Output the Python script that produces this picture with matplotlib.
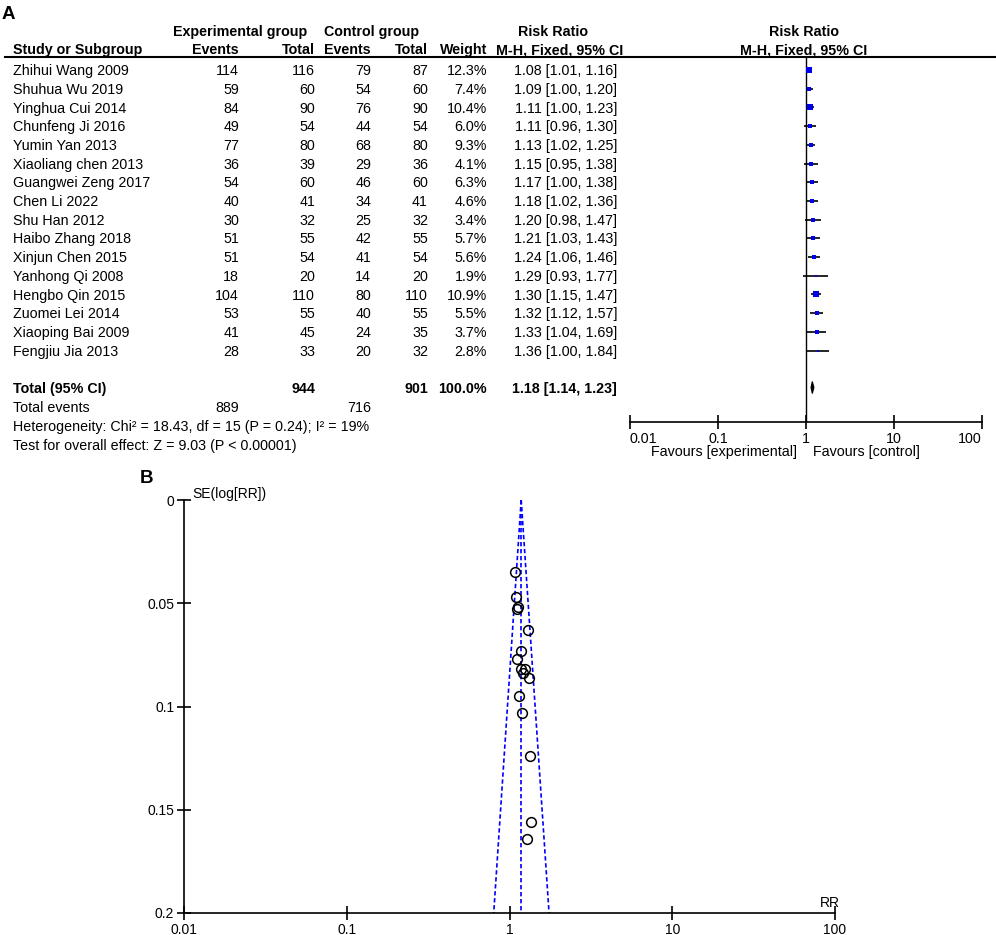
import matplotlib
matplotlib.use("Agg")
import matplotlib.pyplot as plt
import numpy as np

plt.rcParams['font.family'] = ['Liberation Sans', 'DejaVu Sans']

# ---- data ----
studies = ["Zhihui Wang 2009", "Shuhua Wu 2019", "Yinghua Cui 2014", "Chunfeng Ji 2016",
           "Yumin Yan 2013", "Xiaoliang chen 2013", "Guangwei Zeng 2017", "Chen Li 2022",
           "Shu Han 2012", "Haibo Zhang 2018", "Xinjun Chen 2015", "Yanhong Qi 2008",
           "Hengbo Qin 2015", "Zuomei Lei 2014", "Xiaoping Bai 2009", "Fengjiu Jia 2013"]
ev_exp = [114, 59, 84, 49, 77, 36, 54, 40, 30, 51, 51, 18, 104, 53, 41, 28]
tot_exp = [116, 60, 90, 54, 80, 39, 60, 41, 32, 55, 54, 20, 110, 55, 45, 33]
ev_ctl = [79, 54, 76, 44, 68, 29, 46, 34, 25, 42, 41, 14, 80, 40, 24, 20]
tot_ctl = [87, 60, 90, 54, 80, 36, 60, 41, 32, 55, 54, 20, 110, 55, 35, 32]
weight = [12.3, 7.4, 10.4, 6.0, 9.3, 4.1, 6.3, 4.6, 3.4, 5.7, 5.6, 1.9, 10.9, 5.5, 3.7, 2.8]
rr = [1.08, 1.09, 1.11, 1.11, 1.13, 1.15, 1.17, 1.18, 1.20, 1.21, 1.24, 1.29, 1.30, 1.32, 1.33, 1.36]
lo = [1.01, 1.00, 1.00, 0.96, 1.02, 0.95, 1.00, 1.02, 0.98, 1.03, 1.06, 0.93, 1.15, 1.12, 1.04, 1.00]
hi = [1.16, 1.20, 1.23, 1.30, 1.25, 1.38, 1.38, 1.36, 1.47, 1.43, 1.46, 1.77, 1.47, 1.57, 1.69, 1.84]
se = [0.035, 0.047, 0.053, 0.077, 0.052, 0.095, 0.082, 0.073, 0.103, 0.084, 0.082, 0.164,
      0.063, 0.086, 0.124, 0.156]

total_exp, total_ctl = 944, 901
total_ev_exp, total_ev_ctl = 889, 716
total_weight = 100.0
pooled, pooled_lo, pooled_hi = 1.18, 1.14, 1.23
funnel_lo, funnel_hi = 0.80, 1.75

xticks = [0.01, 0.1, 1, 10, 100]
xtick_labels = ["0.01", "0.1", "1", "10", "100"]
yticks = [0, 0.05, 0.1, 0.15, 0.2]
ytick_labels = ["0", "0.05", "0.1", "0.15", "0.2"]

# ---- figure in pixel units ----
W, H = 996, 935
fig = plt.figure(figsize=(W / 100, H / 100), dpi=100)
FS = 10.3


def px_axes(x0, y0, x1, y1):
    return fig.add_axes([x0 / W, 1 - y1 / H, (x1 - x0) / W, (y1 - y0) / H])


ax_t = fig.add_axes([0, 0, 1, 1])
ax_t.set_xlim(0, W)
ax_t.set_ylim(H, 0)
ax_t.set_axis_off()


def txt(x, y, s, ha='left', bold=False, size=FS):
    cap = 0.716 * size * 100 / 72
    ax_t.text(x, y + cap / 2, s, ha=ha, va='baseline', fontsize=size,
              fontweight='bold' if bold else 'normal')


# panel labels
txt(2, 12, "A", bold=True, size=13.5)
txt(140, 476, "B", bold=True, size=13.5)

# header
txt(240, 31, "Experimental group", ha='center', bold=True)
txt(372, 31, "Control group", ha='center', bold=True)
txt(553, 31, "Risk Ratio", ha='center', bold=True)
txt(804, 31, "Risk Ratio", ha='center', bold=True)
txt(13, 49, "Study or Subgroup", bold=True)
txt(239, 49, "Events", ha='right', bold=True)
txt(315, 49, "Total", ha='right', bold=True)
txt(371, 49, "Events", ha='right', bold=True)
txt(428, 49, "Total", ha='right', bold=True)
txt(487, 49, "Weight", ha='right', bold=True)
txt(560, 49, "M-H, Fixed, 95% CI", ha='center', bold=True)
txt(804, 49, "M-H, Fixed, 95% CI", ha='center', bold=True)
ax_t.plot([5, W], [56.5, 56.5], color='black', lw=1.5)

row0, dy = 70, 18.7
rows_y = [row0 + i * dy for i in range(len(studies))]
for i, y in enumerate(rows_y):
    txt(13, y, studies[i])
    txt(239, y, str(ev_exp[i]), ha='right')
    txt(315, y, str(tot_exp[i]), ha='right')
    txt(371, y, str(ev_ctl[i]), ha='right')
    txt(428, y, str(tot_ctl[i]), ha='right')
    txt(487, y, "%.1f%%" % weight[i], ha='right')
    txt(617, y, "%.2f [%.2f, %.2f]" % (rr[i], lo[i], hi[i]), ha='right')

y_tot = rows_y[-1] + 37
txt(13, y_tot, "Total (95% CI)", bold=True)
txt(315, y_tot, str(total_exp), ha='right', bold=True)
txt(428, y_tot, str(total_ctl), ha='right', bold=True)
txt(487, y_tot, "%.1f%%" % total_weight, ha='right', bold=True)
txt(617, y_tot, "%.2f [%.2f, %.2f]" % (pooled, pooled_lo, pooled_hi), ha='right', bold=True)
txt(13, y_tot + 19.5, "Total events")
txt(239, y_tot + 19.5, str(total_ev_exp), ha='right')
txt(371, y_tot + 19.5, str(total_ev_ctl), ha='right')
txt(13, y_tot + 38.5, "Heterogeneity: Chi\u00b2 = 18.43, df = 15 (P = 0.24); I\u00b2 = 19%")
txt(13, y_tot + 57.5, "Test for overall effect: Z = 9.03 (P < 0.00001)")
txt(797, 451, "Favours [experimental]", ha='right')
txt(813, 451, "Favours [control]")

# ---- forest plot ----
ax_f = px_axes(630, 57, 982, 422)
ax_f.patch.set_alpha(0)
ax_f.set_xscale('log')
ax_f.set_xlim(0.01, 100)
ax_f.set_ylim(422, 57)
for s in ['top', 'right', 'left']:
    ax_f.spines[s].set_visible(False)
ax_f.spines['bottom'].set_linewidth(1.2)
ax_f.axvline(1, color='black', lw=1)
ax_f.hlines(rows_y, lo, hi, color='black', lw=1.2, zorder=3)
for i, y in enumerate(rows_y):
    ax_f.plot(rr[i], y, marker='s', color='#0000ee', ms=1.0 * np.sqrt(weight[i]) + 0.4,
              mew=0, zorder=4)
ax_f.fill([pooled_lo, pooled, pooled_hi, pooled],
          [y_tot, y_tot - 6, y_tot, y_tot + 6], color='black', lw=0.8, zorder=4)
ax_f.set_yticks([])
ax_f.set_xticks(xticks)
ax_f.set_xticklabels(xtick_labels)
ax_f.minorticks_off()
ax_f.tick_params(axis='x', direction='inout', length=10, width=1.2, pad=2, labelsize=FS)
lbls = ax_f.get_xticklabels()
lbls[0].set_ha('left')
lbls[-1].set_ha('right')

# ---- funnel plot ----
ax_p = px_axes(184, 500, 835, 913)
ax_p.patch.set_alpha(0)
ax_p.set_xscale('log')
ax_p.set_xlim(0.01, 100)
ax_p.set_ylim(0.2, 0)
for s in ['top', 'right']:
    ax_p.spines[s].set_visible(False)
for s in ['left', 'bottom']:
    ax_p.spines[s].set_linewidth(1.2)
dash = (0, (2.6, 1.6))
ax_p.plot([pooled, pooled], [0, 0.2], color='blue', lw=1.2, ls=dash)
ax_p.plot([pooled, funnel_lo], [0, 0.2], color='blue', lw=1.2, ls=dash)
ax_p.plot([pooled, funnel_hi], [0, 0.2], color='blue', lw=1.2, ls=dash)
ax_p.plot(rr, se, 'o', mfc='none', mec='black', ms=7, mew=1.1, zorder=3)
ax_p.set_xticks(xticks)
ax_p.set_xticklabels(xtick_labels)
ax_p.set_yticks(yticks)
ax_p.set_yticklabels(ytick_labels)
ax_p.minorticks_off()
ax_p.tick_params(direction='inout', length=10, width=1.2, pad=2, labelsize=10)
txt(192, 493, "SE(log[RR])", size=10)
txt(840, 902, "RR", ha='right', size=10)

fig.savefig("out.png", dpi=100)
